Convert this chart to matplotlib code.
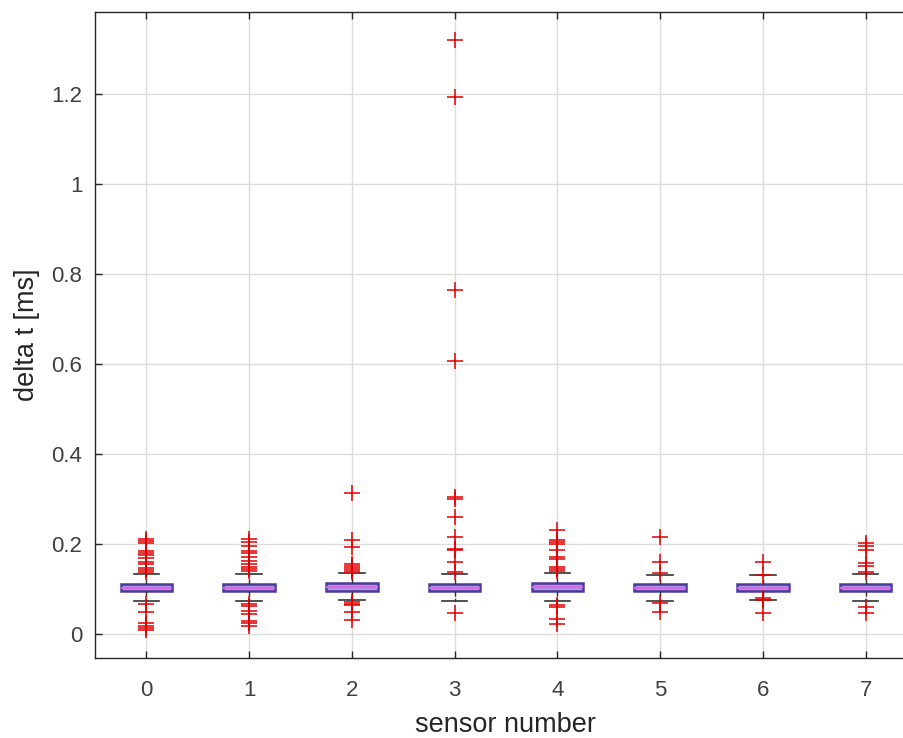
import matplotlib
matplotlib.use("Agg")
import matplotlib.pyplot as plt

# per-sensor box statistics (delta t in ms)
sensors = [0, 1, 2, 3, 4, 5, 6, 7]
q1 = [0.096, 0.096, 0.097, 0.096, 0.097, 0.096, 0.096, 0.096]
med = [0.103, 0.103, 0.104, 0.103, 0.104, 0.102, 0.102, 0.103]
q3 = [0.112, 0.112, 0.113, 0.112, 0.114, 0.111, 0.111, 0.112]
whis_lo = [0.074, 0.074, 0.075, 0.074, 0.074, 0.074, 0.075, 0.074]
whis_hi = [0.133, 0.133, 0.135, 0.133, 0.136, 0.132, 0.131, 0.133]

# outliers
outliers = [
    [0.212, 0.208, 0.203, 0.185, 0.180, 0.175, 0.170, 0.160, 0.155, 0.147, 0.142, 0.138,
     0.068, 0.050, 0.024, 0.019, 0.014, 0.010],
    [0.212, 0.205, 0.195, 0.185, 0.180, 0.172, 0.162, 0.155, 0.150, 0.145, 0.140,
     0.066, 0.062, 0.052, 0.045, 0.030, 0.024, 0.018],
    [0.314, 0.209, 0.194, 0.157, 0.152, 0.147, 0.142, 0.139,
     0.072, 0.068, 0.064, 0.050, 0.031],
    [1.320, 1.193, 0.765, 0.608, 0.305, 0.300, 0.260, 0.215, 0.190, 0.186, 0.160, 0.138,
     0.047],
    [0.231, 0.210, 0.205, 0.200, 0.187, 0.172, 0.167, 0.149, 0.145, 0.140,
     0.065, 0.061, 0.033, 0.022],
    [0.216, 0.160, 0.137, 0.070, 0.050],
    [0.160, 0.131, 0.080, 0.077, 0.047],
    [0.202, 0.196, 0.187, 0.158, 0.151, 0.138, 0.060, 0.047],
]

stats = []
for i in range(len(sensors)):
    stats.append(dict(q1=q1[i], med=med[i], q3=q3[i], whislo=whis_lo[i],
                      whishi=whis_hi[i], fliers=outliers[i]))

plt.rcParams['font.family'] = ['Liberation Sans', 'DejaVu Sans']

fig = plt.figure(figsize=(9.04, 7.38), dpi=100)
# right edge of the axes runs past the figure, as in the cropped original
ax = fig.add_axes([95 / 904, 80 / 738, 822 / 904, 646 / 738])

ax.bxp(stats, positions=sensors, widths=0.5, patch_artist=True,
       boxprops=dict(facecolor='#b590e6', edgecolor='#4a3a9e', linewidth=1.8),
       medianprops=dict(color='#d66ae0', linewidth=1.5),
       whiskerprops=dict(color='#333333', linewidth=1, linestyle='--'),
       capprops=dict(color='#333333', linewidth=1.2),
       capwidths=0.25,
       flierprops=dict(marker='+', markeredgecolor='#e00000', markersize=12,
                       markeredgewidth=1.1),
       zorder=3)

ax.set_xlim(-0.5, 7.5)
ax.set_ylim(-0.053, 1.383)
ax.set_xticks(sensors)
ax.set_xticklabels([str(s) for s in sensors])
ax.set_yticks([0, 0.2, 0.4, 0.6, 0.8, 1.0, 1.2])
ax.set_yticklabels(['0', '0.2', '0.4', '0.6', '0.8', '1', '1.2'])

ax.grid(True, color='#dcdcdc', linewidth=1)
ax.set_axisbelow(True)
ax.tick_params(direction='in', length=5, width=1, colors='#262626',
               labelcolor='#404040', labelsize=16, top=True, right=True)
ax.tick_params(axis='x', pad=16)
ax.tick_params(axis='y', pad=9)
for sp in ax.spines.values():
    sp.set_color('#262626')
    sp.set_linewidth(1)

ax.set_xlabel('sensor number', fontsize=19.5, color='#262626', labelpad=8)
ax.set_ylabel('delta t [ms]', fontsize=19.5, color='#262626', labelpad=8)

fig.savefig('out.png', dpi=100)
